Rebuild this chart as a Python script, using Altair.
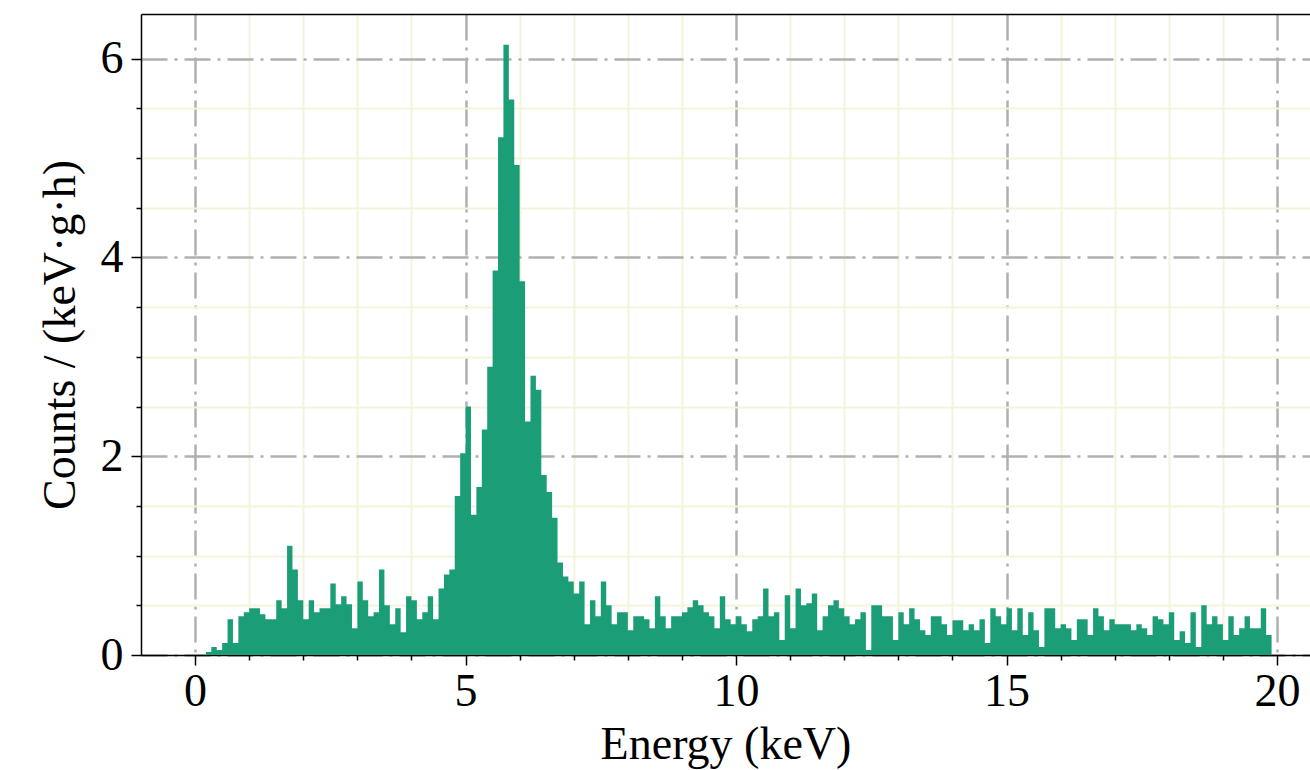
import altair as alt
import pandas as pd

# Histogram bins (keV), 0.1 keV wide (value of each bin starting at bin_start)
bin_start = [round(0.1 * i, 1) for i in range(200)]
counts = [
    0.00, 0.00, 0.03, 0.08, 0.05, 0.12, 0.36, 0.12, 0.39, 0.43,
    0.47, 0.47, 0.41, 0.36, 0.36, 0.55, 0.47, 1.10, 0.86, 0.55,
    0.36, 0.55, 0.43, 0.47, 0.47, 0.72, 0.51, 0.59, 0.51, 0.27,
    0.74, 0.55, 0.39, 0.43, 0.86, 0.50, 0.31, 0.47, 0.23, 0.59,
    0.55, 0.36, 0.43, 0.59, 0.36, 0.67, 0.81, 0.86, 1.60, 2.03,
    2.50, 1.41, 1.69, 2.27, 2.90, 3.87, 5.21, 6.14, 5.59, 4.93,
    3.76, 2.35, 2.81, 2.67, 1.81, 1.64, 1.38, 0.93, 0.79, 0.74,
    0.62, 0.74, 0.31, 0.55, 0.39, 0.74, 0.50, 0.31, 0.43, 0.43,
    0.25, 0.39, 0.39, 0.36, 0.27, 0.59, 0.39, 0.27, 0.39, 0.39,
    0.43, 0.48, 0.55, 0.50, 0.43, 0.39, 0.27, 0.59, 0.36, 0.31,
    0.39, 0.31, 0.24, 0.36, 0.39, 0.67, 0.39, 0.43, 0.15, 0.60,
    0.27, 0.67, 0.50, 0.52, 0.62, 0.25, 0.39, 0.50, 0.55, 0.47,
    0.39, 0.31, 0.36, 0.43, 0.05, 0.50, 0.50, 0.39, 0.39, 0.15,
    0.43, 0.31, 0.47, 0.36, 0.25, 0.20, 0.39, 0.39, 0.31, 0.20,
    0.35, 0.35, 0.25, 0.31, 0.25, 0.36, 0.12, 0.47, 0.39, 0.31,
    0.47, 0.25, 0.47, 0.20, 0.43, 0.25, 0.08, 0.47, 0.47, 0.27,
    0.31, 0.27, 0.15, 0.36, 0.36, 0.20, 0.47, 0.39, 0.25, 0.36,
    0.31, 0.31, 0.31, 0.25, 0.31, 0.27, 0.20, 0.39, 0.36, 0.31,
    0.43, 0.15, 0.24, 0.12, 0.43, 0.08, 0.50, 0.31, 0.39, 0.31,
    0.15, 0.39, 0.20, 0.27, 0.39, 0.27, 0.27, 0.47, 0.20, 0.00,
]

x_major = [0, 5, 10, 15, 20]
x_minor = [1, 2, 3, 4, 6, 7, 8, 9, 11, 12, 13, 14, 16, 17, 18, 19]
y_major = [0, 2, 4, 6]
y_minor = [0.5, 1, 1.5, 2.5, 3, 3.5, 4.5, 5, 5.5]

df = pd.DataFrame({"E0": bin_start, "counts": counts})

FONT = "Liberation Serif"
BAR = "#1b9e77"
# right edge of the frame falls just outside the visible window in the reference
x_scale = alt.Scale(domain=[-1, 20.61], nice=False, zero=False)
y_scale = alt.Scale(domain=[0, 6.45], nice=False, zero=False)

base = alt.Chart(df)

minor_axes = base.mark_point(opacity=0).encode(
    x=alt.X("E0:Q", scale=x_scale, title=None,
            axis=alt.Axis(orient="bottom", values=x_minor, grid=True,
                          gridColor="#f4f4dc", gridWidth=2, labels=False,
                          ticks=True, tickSize=5, tickWidth=1.5,
                          tickColor="black", domain=False)),
    y=alt.Y("counts:Q", scale=y_scale, title=None,
            axis=alt.Axis(orient="left", values=y_minor, grid=True,
                          gridColor="#f4f4dc", gridWidth=2, labels=False,
                          ticks=True, tickSize=5, tickWidth=1.5,
                          tickColor="black", domain=False)),
)

major_axes = base.mark_point(opacity=0).encode(
    x=alt.X("E0:Q", scale=x_scale, title="Energy (keV)",
            axis=alt.Axis(orient="bottom", values=x_major, format="d",
                          grid=True, gridColor="#b0b0b0", gridWidth=2.5,
                          gridDash=[26, 7, 3, 7],
                          tickSize=10, tickWidth=1.5, tickColor="black",
                          domain=True, domainColor="black", domainWidth=1.5,
                          labelFont=FONT, labelFontSize=46, labelColor="black",
                          labelPadding=4,
                          titleFont=FONT, titleFontSize=46,
                          titleFontWeight="normal", titleColor="black",
                          titlePadding=8)),
    y=alt.Y("counts:Q", scale=y_scale, title="Counts / (keV·g·h)",
            axis=alt.Axis(orient="left", values=y_major, format="d",
                          grid=True, gridColor="#b0b0b0", gridWidth=2.5,
                          gridDash=[26, 7, 3, 7],
                          tickSize=10, tickWidth=1.5, tickColor="black",
                          domain=True, domainColor="black", domainWidth=1.5,
                          labelFont=FONT, labelFontSize=46, labelColor="black",
                          labelPadding=8,
                          titleFont=FONT, titleFontSize=46,
                          titleFontWeight="normal", titleColor="black",
                          titlePadding=16)),
)

# top spine of the frame
top_frame = base.mark_point(opacity=0).encode(
    x=alt.X("E0:Q", scale=x_scale, title=None,
            axis=alt.Axis(orient="top", ticks=False, labels=False, grid=False,
                          domain=True, domainColor="black", domainWidth=1.5)),
    y=alt.Y("counts:Q", scale=y_scale, axis=None),
)

# filled step histogram (one shape, no seams between bins)
hist = base.mark_area(interpolate="step-after", color=BAR, opacity=1).encode(
    x=alt.X("E0:Q", scale=x_scale, axis=None),
    y=alt.Y("counts:Q", scale=y_scale, axis=None),
    y2=alt.datum(0),
)

chart = (
    alt.layer(minor_axes, major_axes, top_frame, hist)
    .resolve_axis(x="independent", y="independent")
    .properties(width=1169, height=641,
                autosize=alt.AutoSizeParams(type="none"),
                padding={"left": 141, "top": 14, "right": 0, "bottom": 115},
                background="white")
    .configure_view(stroke=None)
)

chart.save("out.html", embed_options={"renderer": "svg", "actions": False})
